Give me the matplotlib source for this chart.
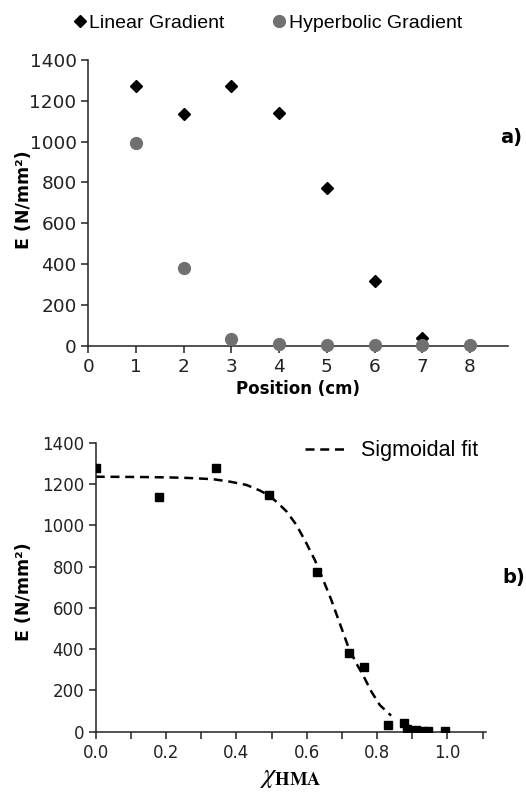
import numpy as np
import matplotlib.pyplot as plt
from matplotlib.ticker import MultipleLocator

# panel a: modulus along the sample
pos = [1, 2, 3, 4, 5, 6, 7]
E_linear = [1275, 1135, 1275, 1140, 775, 315, 38]
pos_hyp = [1, 2, 3, 4, 5, 6, 7, 8]
E_hyper = [995, 380, 35, 10, 3, 2, 2, 2]

# panel b: modulus vs HMA fraction
chi = [0.0, 0.18, 0.343, 0.492, 0.63, 0.72, 0.763, 0.832, 0.878, 0.884, 0.91, 0.93, 0.945, 0.993]
E_chi = [1275, 1135, 1278, 1145, 775, 380, 315, 35, 40, 15, 10, 5, 3, 2]

# sigmoidal fit, points taken along the curve
fit_x = [0.0, 0.1, 0.2, 0.263, 0.334, 0.382, 0.429, 0.467, 0.495, 0.524, 0.543, 0.571,
         0.599, 0.623, 0.647, 0.670, 0.694, 0.718, 0.741, 0.760, 0.784, 0.808, 0.840]
fit_y = [1235, 1234, 1232, 1229, 1223, 1211, 1195, 1168, 1142, 1098, 1066, 1001,
         913, 832, 735, 638, 525, 412, 331, 275, 194, 129, 78]

plt.rcParams['font.family'] = 'DejaVu Sans'
fig = plt.figure(figsize=(5.26, 7.92), dpi=100)

def style(ax, size):
    for s in ['top', 'right']:
        ax.spines[s].set_visible(False)
    for s in ['left', 'bottom']:
        ax.spines[s].set_linewidth(1.1)
        ax.spines[s].set_color('#222222')
    ax.tick_params(which='both', direction='out', length=5, width=1.1, colors='#222222',
                   labelsize=size, labelcolor='#222222')

ax1 = fig.add_axes([0.168, 0.5635, 0.798, 0.3607])
ax1.plot(pos, E_linear, 'D', color='black', ms=6.5, label='Linear Gradient', zorder=3, clip_on=False)
ax1.plot(pos_hyp, E_hyper, 'o', color='#707070', ms=8.5, label='Hyperbolic Gradient', zorder=4, clip_on=False)
ax1.set_xlim(0, 8.8)
ax1.set_ylim(0, 1400)
ax1.set_xticks(range(0, 9))
ax1.yaxis.set_major_locator(MultipleLocator(200))
style(ax1, 13.3)
ax1.set_xlabel('Position (cm)', fontsize=12, fontweight='bold', labelpad=3)
ax1.set_ylabel('E (N/mm²)', fontsize=12.5, fontweight='bold')
ax1.yaxis.set_label_coords(-0.133, 0.51)
fig.text(500 / 526, 1 - 137 / 792, 'a)', fontsize=14, fontweight='bold', va='center', ha='left')

fig.legend(handles=ax1.get_lines(), loc='center', bbox_to_anchor=(266 / 526, 1 - 23 / 792),
           ncol=2, frameon=False, handletextpad=0.0, columnspacing=2.3, handlelength=1.0,
           prop={'family': 'Liberation Sans', 'size': 14})

ax2 = fig.add_axes([0.182, 0.0761, 0.742, 0.365])
ax2.plot(fit_x, fit_y, color='black', lw=1.8, dashes=(3.6, 2.3), label='Sigmoidal fit', zorder=2)
ax2.plot(chi, E_chi, 's', color='black', ms=6, zorder=3)
ax2.set_xlim(0, 1.11)
ax2.set_ylim(0, 1400)
ax2.xaxis.set_major_locator(MultipleLocator(0.2))
ax2.xaxis.set_minor_locator(MultipleLocator(0.1))
ax2.xaxis.set_major_formatter(plt.FormatStrFormatter('%.1f'))
ax2.yaxis.set_major_locator(MultipleLocator(200))
style(ax2, 12)
ax2.set_ylabel('E (N/mm²)', fontsize=12.5, fontweight='bold')
ax2.yaxis.set_label_coords(-0.161, 0.483)
ax2.set_xlabel(r'$\chi_{\mathbf{HMA}}$', fontsize=19, math_fontfamily='stix', labelpad=2)
ax2.legend(loc='upper right', bbox_to_anchor=(1.03, 1.075), frameon=False, handlelength=2.0,
           handletextpad=0.6, prop={'family': 'Liberation Sans', 'size': 15.5})
fig.text(502 / 526, 1 - 577 / 792, 'b)', fontsize=14, fontweight='bold', va='center', ha='left')

fig.savefig('out.png', dpi=100)
